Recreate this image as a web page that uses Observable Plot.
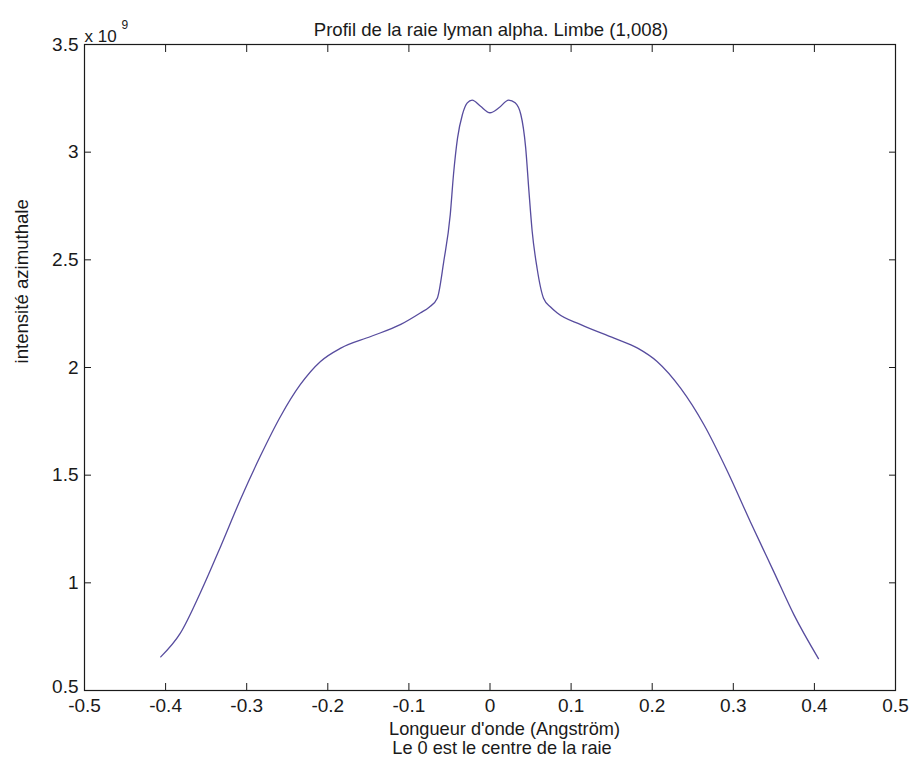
<!DOCTYPE html>
<html>
<head>
<meta charset="utf-8">
<script src="https://cdn.jsdelivr.net/npm/d3@7"></script>
<script src="https://cdn.jsdelivr.net/npm/@observablehq/plot@0.6"></script>
<style>
  html, body { margin: 0; padding: 0; background: #fff; }
  #chart svg { display: block; }
</style>
</head>
<body>
<div id="chart"></div>
<script>
// Wavelength offset from line centre (Angström)
const wavelength = [-0.406, -0.382, -0.357, -0.332, -0.308, -0.283, -0.258, -0.234, -0.209, -0.184,
  -0.147, -0.110, -0.086, -0.075, -0.065, -0.057, -0.049, -0.045, -0.040, -0.034,
  -0.028, -0.022, -0.012, 0.000, 0.011, 0.023, 0.031, 0.038, 0.044, 0.048,
  0.052, 0.058, 0.066, 0.075, 0.083, 0.112, 0.153, 0.182, 0.206, 0.235,
  0.264, 0.293, 0.321, 0.350, 0.375, 0.405];
// Azimuthal intensity, in units of 1e9
const intensity = [0.656, 0.765, 0.955, 1.170, 1.385, 1.590, 1.775, 1.920, 2.028, 2.090,
  2.144, 2.200, 2.253, 2.280, 2.322, 2.493, 2.710, 2.896, 3.066, 3.175,
  3.229, 3.242, 3.214, 3.183, 3.206, 3.242, 3.229, 3.175, 3.020, 2.819,
  2.633, 2.462, 2.322, 2.280, 2.253, 2.199, 2.136, 2.090, 2.028, 1.904,
  1.733, 1.516, 1.284, 1.051, 0.850, 0.648];

const xTicks = [-0.5, -0.4, -0.3, -0.2, -0.1, 0, 0.1, 0.2, 0.3, 0.4, 0.5];
const xTickLabels = ["-0.5", "-0.4", "-0.3", "-0.2", "-0.1", "0", "0.1", "0.2", "0.3", "0.4", "0.5"];
const yTicks = [0.5, 1, 1.5, 2, 2.5, 3, 3.5];
const yTickLabels = ["0.5", "1", "1.5", "2", "2.5", "3", "3.5"];

const title = "Profil de la raie lyman alpha. Limbe (1,008)";
const xLabel1 = "Longueur d'onde (Angström)";
const xLabel2 = "Le 0 est le centre de la raie";
const yLabel = "intensité azimuthale";
const multiplier = "x 10";
const exponent = "9";

const data = wavelength.map((w, i) => ({w, v: intensity[i]}));
const ink = "#1a1a1a";
const yFmt = d => yTickLabels[yTicks.indexOf(d)];

const plot = Plot.plot({
  width: 911,
  height: 762,
  marginTop: 44,
  marginLeft: 84,
  marginRight: 16,
  marginBottom: 72,
  style: {fontFamily: "'Liberation Sans', Arial, sans-serif", fontSize: "18px", color: ink, background: "#fff"},
  x: {domain: [-0.5, 0.5]},
  y: {domain: [0.5, 3.5]},
  marks: [
    Plot.frame({stroke: ink, strokeWidth: 1.2}),
    Plot.axisX(xTicks, {anchor: "bottom", tickSize: -7, tickPadding: 15, label: null,
      tickFormat: d => xTickLabels[xTicks.indexOf(d)], stroke: ink, fill: ink, fontSize: 19}),
    Plot.axisX(xTicks, {anchor: "top", tickSize: -7, label: null, tickFormat: () => "", stroke: ink}),
    Plot.axisY(yTicks.slice(1), {anchor: "left", tickSize: -7, tickPadding: 13, label: null,
      tickFormat: yFmt, stroke: ink, fill: ink, fontSize: 19}),
    Plot.axisY(yTicks.slice(0, 1), {anchor: "left", tickSize: 0, tickPadding: 6, label: null, dy: -4,
      tickFormat: yFmt, stroke: ink, fill: ink, fontSize: 19}),
    Plot.axisY(yTicks, {anchor: "right", tickSize: -7, label: null, tickFormat: () => "", stroke: ink}),
    Plot.line(data, {x: "w", y: "v", stroke: "#574c9e", strokeWidth: 1.3, curve: "monotone-x"}),
    Plot.text([title], {frameAnchor: "top", text: d => d, dy: -21.5, dx: 1, fontSize: 18.6, fill: ink}),
    Plot.text([xLabel1], {frameAnchor: "bottom", text: d => d, dy: 44, dx: 14.5, fontSize: 18.2, fill: ink}),
    Plot.text([xLabel2], {frameAnchor: "bottom", text: d => d, dy: 63.5, dx: 12, fontSize: 18.2, fill: ink}),
    Plot.text([yLabel], {frameAnchor: "left", text: d => d, rotate: -90, dx: -62, dy: -4, fontSize: 18.6, fill: ink}),
    Plot.text([multiplier], {frameAnchor: "top-left", text: d => d, textAnchor: "start", dy: -15, dx: 0, fontSize: 17, fill: ink}),
    Plot.text([exponent], {frameAnchor: "top-left", text: d => d, textAnchor: "start", dy: -24, dx: 37, fontSize: 12, fill: ink})
  ]
});
document.getElementById("chart").appendChild(plot);
</script>
</body>
</html>
